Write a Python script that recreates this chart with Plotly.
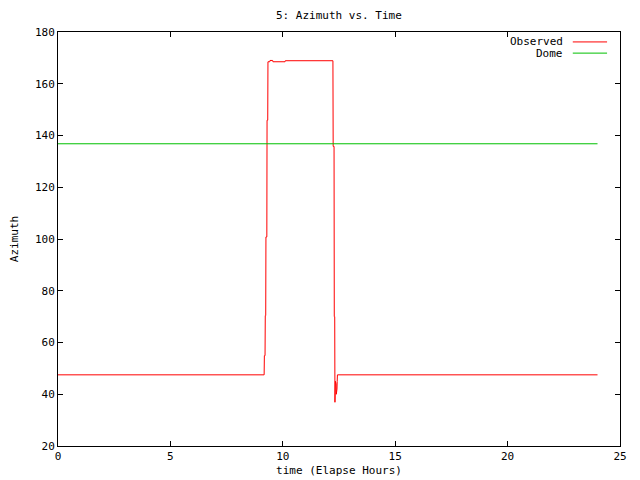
import plotly.graph_objects as go

# observed azimuth track (elapsed hours, degrees)
obs_time = [0.0, 9.17, 9.18, 9.21, 9.22, 9.24, 9.25, 9.29, 9.30, 9.33, 9.34,
            9.42, 9.43, 9.55, 9.56, 10.1, 10.11, 12.23, 12.24, 12.28, 12.29,
            12.31, 12.32, 12.34, 12.35, 12.37, 12.38, 12.41, 12.42, 12.43, 24.0]
obs_az = [47.5, 47.5, 54.9, 54.9, 70.4, 70.4, 100.8, 100.8, 145.9, 145.9, 168.5,
          168.5, 169.0, 169.0, 168.5, 168.5, 168.9, 168.9, 135.8, 135.8, 70.0,
          70.0, 36.9, 45.0, 38.5, 44.0, 40.0, 42.0, 45.0, 47.5, 47.5]

dome_time = [0.0, 24.0]
dome_az = [136.8, 136.8]

font = dict(family='DejaVu Sans Mono', size=11, color='black')

fig = go.Figure()
fig.add_trace(go.Scatter(x=obs_time, y=obs_az, mode='lines', name='Observed',
                         line=dict(color='#ff0000', width=1)))
fig.add_trace(go.Scatter(x=dome_time, y=dome_az, mode='lines', name='Dome',
                         line=dict(color='#00c000', width=1)))

axis = dict(showgrid=False, zeroline=False, showline=True, linecolor='black',
            linewidth=1, mirror='ticks', ticks='inside', ticklen=5,
            tickcolor='black', tickfont=font, automargin=False)

# gnuplot-style key: text on the left, sample line on the right
annotations = [
    dict(text='5: Azimuth vs. Time', xref='paper', yref='paper', x=0.5, y=1.0,
         yanchor='middle', yshift=17, showarrow=False, font=font),
    dict(text='Observed', xref='paper', yref='paper', x=0.902, y=0.976,
         xanchor='right', yanchor='middle', showarrow=False, font=font),
    dict(text='Dome', xref='paper', yref='paper', x=0.902, y=0.949,
         xanchor='right', yanchor='middle', showarrow=False, font=font),
]
shapes = [
    dict(type='line', xref='paper', yref='paper', x0=0.916, x1=0.977,
         y0=0.976, y1=0.976, line=dict(color='#ff0000', width=1)),
    dict(type='line', xref='paper', yref='paper', x0=0.916, x1=0.977,
         y0=0.949, y1=0.949, line=dict(color='#00c000', width=1)),
]

# page body has an 8px margin, so the figure is shrunk to fit the window
fig.update_layout(
    width=632, height=472,
    margin=dict(l=50, r=20, t=24, b=34),
    showlegend=False,
    paper_bgcolor='white', plot_bgcolor='white',
    font=font,
    xaxis=dict(axis, range=[0, 25], dtick=5,
               title=dict(text='time (Elapse Hours)', font=font, standoff=4)),
    yaxis=dict(axis, range=[20, 180], dtick=20,
               title=dict(text='Azimuth', font=font, standoff=18)),
    annotations=annotations,
    shapes=shapes,
)

fig.write_html("out.html")
